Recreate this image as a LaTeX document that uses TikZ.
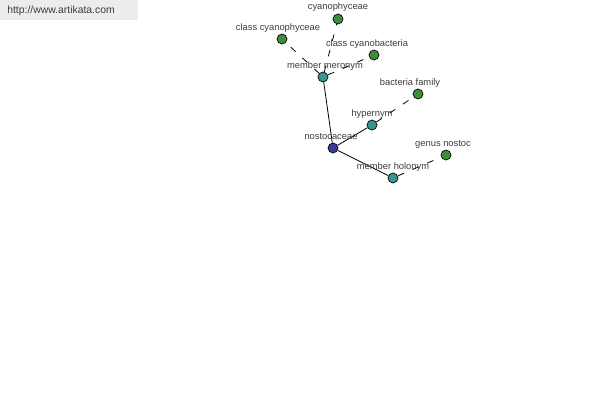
\documentclass[tikz,border=0pt]{standalone}
\usepackage{fontspec}
\setmainfont{Liberation Sans}
\definecolor{hub}{RGB}{60,60,150}
\definecolor{rel}{RGB}{58,148,148}
\definecolor{leaf}{RGB}{63,140,63}
\definecolor{band}{RGB}{236,236,236}
\definecolor{ink}{RGB}{60,60,60}
\usepackage{tikz}

\begin{document}
\begin{tikzpicture}[x=0.75pt, y=-0.75pt,
    dot/.style={circle, draw=black, line width=0.5pt, inner sep=0pt, minimum size=10pt*0.75},
    lbl/.style={font=\fontsize{7}{8}\selectfont, text=ink, inner sep=0pt},
    link/.style={line width=0.6pt},
    weak/.style={line width=0.6pt, dash pattern=on 5pt off 7pt}]
  %% 1. Canvas and banner
  \useasboundingbox (0,0) rectangle (600,400);
  \fill[white] (0,0) rectangle (600,400);
  \fill[band] (0,0) rectangle (138,20);
  \node[lbl, font=\fontsize{7.8}{9}\selectfont, anchor=west] (site) at (7,11) {http://www.artikata.com};
  %% 2. Nodes
  \node[dot, fill=hub]  (nost) at (333,148) {};
  \node[dot, fill=rel]  (mero) at (323,77) {};
  \node[dot, fill=rel]  (hyper) at (372,125) {};
  \node[dot, fill=rel]  (holo) at (393,178) {};
  \node[dot, fill=leaf] (cyano) at (338,19) {};
  \node[dot, fill=leaf] (clscyano) at (282,39) {};
  \node[dot, fill=leaf] (clsbact) at (374,55) {};
  \node[dot, fill=leaf] (bactfam) at (418,94) {};
  \node[dot, fill=leaf] (genus) at (446,155) {};
  %% 3. Links
  \draw[link] (nost) -- (mero);
  \draw[link] (nost) -- (hyper);
  \draw[link] (nost) -- (holo);
  \draw[weak] (mero) -- (cyano);
  \draw[weak] (mero) -- (clscyano);
  \draw[weak] (mero) -- (clsbact);
  \draw[weak] (hyper) -- (bactfam);
  \draw[weak] (holo) -- (genus);
  %% 4. Labels
  \node[lbl] (nostlbl) at (331,137) {nostocaceae};
  \node[lbl] (merolbl) at (325,66) {member meronym};
  \node[lbl] (hyperlbl) at (372,114) {hypernym};
  \node[lbl] (hololbl) at (393,167) {member holonym};
  \node[lbl] (cyanolbl) at (338,7) {cyanophyceae};
  \node[lbl] (clscyanolbl) at (278,28) {class cyanophyceae};
  \node[lbl] (clsbactlbl) at (367,44) {class cyanobacteria};
  \node[lbl] (bactfamlbl) at (410,83) {bacteria family};
  \node[lbl] (genuslbl) at (443,144) {genus nostoc};
\end{tikzpicture}
\end{document}
